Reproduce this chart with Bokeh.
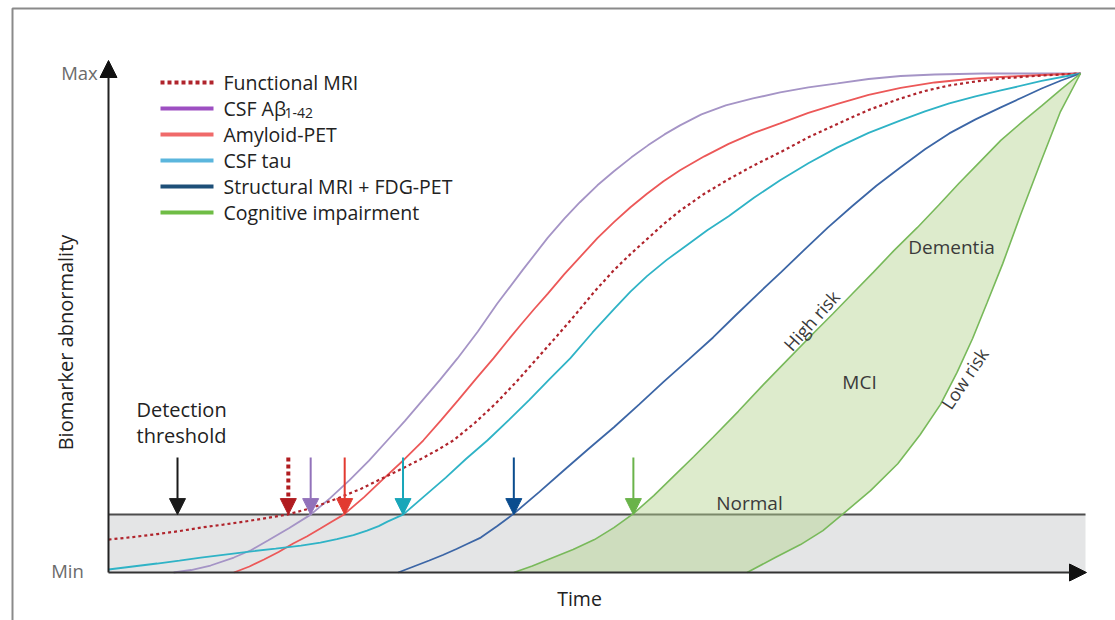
from bokeh.plotting import figure
from bokeh.models import Range1d, Label, Arrow, NormalHead
from bokeh.embed import file_html
from bokeh.resources import INLINE

# ---------------- data (time 0..100, abnormality 0..100) ----------------
threshold = 11.6

fmri_t = [0, 2.5, 5.0, 7.3, 9.5, 11.8, 14.0, 16.2, 18.4, 21.0, 23.5, 26.0, 28.3, 30.2, 32.0, 33.8, 35.5,
          37.7, 39.8, 42.0, 44.1, 46.1, 48.0, 50.0, 52.0, 53.7, 55.4, 57.1, 58.8, 61.3, 63.8, 66.4, 69.1,
          72.0, 75.0, 78.2, 81.5, 84.0, 86.5, 89.2, 91.8, 96.0, 100]
fmri_a = [6.6, 7.1, 7.7, 8.3, 9.0, 9.6, 10.2, 10.9, 11.6, 13.0, 14.8, 16.8, 19.0, 20.8, 22.6, 24.5, 26.5,
          30.0, 33.8, 38.3, 42.9, 47.3, 51.6, 56.3, 60.6, 63.8, 66.8, 69.8, 72.5, 75.9, 78.8, 81.6, 84.2,
          87.2, 89.9, 92.7, 95.0, 96.5, 97.6, 98.4, 99.0, 99.6, 100]

abeta_t = [6.7, 8.5, 10.5, 12.9, 14.7, 16.4, 18.6, 20.8, 22.8, 24.8, 26.8, 28.7, 30.5, 32.3, 34.1, 35.9,
           38.0, 40.0, 42.6, 45.2, 46.9, 48.5, 50.3, 52.0, 53.8, 55.5, 57.2, 58.8, 61.0, 63.5, 66.3, 69.1,
           72.0, 75.0, 78.2, 81.5, 85.0, 90.0, 95.0, 100]
abeta_a = [0, 0.5, 1.4, 3.0, 4.5, 6.4, 8.9, 11.6, 14.9, 18.5, 22.4, 26.5, 30.4, 34.5, 38.6, 42.9,
           48.3, 53.9, 60.6, 67.1, 70.9, 74.2, 77.6, 80.4, 83.2, 85.6, 87.8, 89.6, 91.8, 93.6, 95.0, 96.2,
           97.2, 98.0, 98.9, 99.5, 99.8, 100, 100, 100]

amyloid_t = [12.9, 14.5, 16.0, 17.5, 19.0, 20.4, 21.8, 23.0, 24.2, 26.3, 28.3, 30.4, 32.4, 34.2, 36.0,
             37.8, 39.6, 41.0, 42.4, 43.8, 45.2, 46.9, 48.6, 50.3, 52.0, 53.7, 55.4, 57.1, 58.8, 61.3,
             63.8, 66.4, 69.1, 72.0, 75.0, 78.2, 81.5, 85.0, 88.5, 91.8, 96.0, 100]
amyloid_a = [0, 1.2, 2.6, 4.1, 5.8, 7.2, 8.8, 10.2, 11.6, 15.1, 18.8, 22.6, 26.5, 30.5, 34.6,
             38.8, 42.9, 46.3, 49.6, 52.8, 55.9, 59.8, 63.4, 67.0, 70.2, 73.2, 75.9, 78.4, 80.6, 83.4,
             85.9, 88.1, 90.0, 92.1, 93.9, 95.7, 97.1, 98.2, 98.9, 99.3, 99.7, 100]

tau_t = [0, 2.5, 5.0, 7.3, 9.5, 12.0, 14.5, 17.2, 19.8, 21.8, 23.5, 25.2, 26.6, 27.8, 28.7, 29.5, 30.3,
         32.5, 34.7, 36.8, 39.0, 41.2, 43.3, 45.4, 47.5, 49.8, 52.0, 53.7, 55.4, 57.4, 59.5, 61.6, 63.8,
         66.4, 69.1, 72.0, 75.0, 78.2, 81.5, 84.0, 86.5, 89.2, 91.8, 96.0, 100]
tau_a = [0.6, 1.2, 1.8, 2.4, 3.0, 3.6, 4.2, 4.8, 5.4, 6.0, 6.7, 7.5, 8.4, 9.3, 10.2, 10.9, 11.6,
         15.3, 19.0, 22.8, 26.5, 30.6, 34.6, 38.8, 42.9, 48.1, 52.8, 56.3, 59.4, 62.6, 65.6, 68.6, 71.4,
         75.1, 78.6, 82.0, 85.2, 88.1, 90.6, 92.4, 94.0, 95.4, 96.6, 98.5, 100]

struct_t = [29.8, 31.4, 33.0, 34.4, 35.8, 37.0, 38.3, 40.0, 41.7, 44.3, 46.8, 49.4, 52.0, 54.6, 57.1, 59.7,
            62.2, 64.5, 66.8, 69.2, 71.5, 74.0, 76.5, 79.0, 81.5, 84.0, 86.5, 89.2, 91.8, 94.0, 96.0, 98.0, 100]
struct_a = [0, 1.2, 2.4, 3.5, 4.7, 5.8, 7.0, 9.3, 11.8, 16.1, 20.4, 24.8, 29.1, 33.7, 38.2, 42.7,
            47.1, 51.5, 55.8, 60.2, 64.5, 69.1, 73.4, 77.5, 81.2, 84.8, 88.0, 90.8, 93.2, 95.2, 97.0, 98.6, 100]

cog_high_t = [41.7, 43.6, 45.5, 47.8, 50.0, 52.0, 54.0, 56.1, 58.1, 60.2, 62.2, 64.8, 67.3, 69.9, 72.5,
              74.5, 76.5, 78.7, 80.8, 83.2, 85.4, 87.5, 89.7, 91.8, 94.0, 96.0, 98.0, 100]
cog_high_a = [0, 1.3, 2.8, 4.6, 6.6, 9.0, 11.8, 15.4, 19.2, 23.2, 27.1, 32.3, 37.5, 42.7, 47.9,
              51.8, 55.8, 60.2, 64.5, 69.1, 73.6, 78.0, 82.4, 86.6, 90.3, 93.5, 96.8, 100]

cog_low_t = [65.7, 68.6, 71.2, 73.5, 75.6, 78.4, 81.2, 83.5, 85.6, 87.3, 88.9, 90.4, 92.0, 93.8, 95.9, 97.9, 100]
cog_low_a = [0, 3.0, 5.6, 8.4, 11.8, 16.4, 21.8, 27.6, 33.7, 40.1, 46.9, 54.1, 61.9, 71.5, 82.2, 92.2, 100]

# detection time of each biomarker (where it crosses the threshold)
det_names = ["threshold", "fmri", "abeta", "amyloid", "tau", "struct", "cog"]
det_times = [7.1, 18.5, 20.8, 24.3, 30.3, 41.7, 54.0]

legend_labels = ["Functional MRI", "CSF A\u03b2", "Amyloid-PET", "CSF tau", "Structural MRI + FDG-PET", "Cognitive impairment"]

# ---------------- styling ----------------
FONT = "Open Sans"
W, H = 1115, 620
X0, XS = 108, 9.72   # pixel of time 0, pixels per unit
Y0, YS = 572, 4.99   # pixel of abnormality 0, pixels per unit


def tx(px):
    return (px - X0) / XS


def ay(py):
    return (Y0 - py) / YS


p = figure(width=W, height=H, x_range=Range1d(tx(0), tx(W)), y_range=Range1d(ay(H), ay(0)),
           output_backend="svg", toolbar_location=None, min_border=0,
           x_axis_location=None, y_axis_location=None)
p.grid.visible = False
p.outline_line_color = None
p.background_fill_color = "white"
p.border_fill_color = "white"

# outer frame (left + top)
p.line([tx(12), tx(12), tx(W + 5)], [ay(H + 5), ay(8), ay(8)], line_color="#8a8a8a", line_width=2)

# detection band
band_right = tx(1085)
p.quad(left=[0], right=[band_right], bottom=[0], top=[threshold], fill_color="#e4e5e6", line_color=None)
p.line([0, band_right], [threshold, threshold], line_color="#4d4d4d", line_width=2)

# cognitive impairment region (between high and low risk curves)
p.patch(cog_high_t + cog_low_t[::-1], cog_high_a + cog_low_a[::-1],
        fill_color="#b3d38e", fill_alpha=0.45, line_color=None)

# curves
p.line(abeta_t, abeta_a, line_color="#a594c6", line_width=1.8)
p.line(amyloid_t, amyloid_a, line_color="#ec5858", line_width=1.8)
p.line(fmri_t, fmri_a, line_color="#b0242c", line_width=2.2, line_dash="3 3")
p.line(tau_t, tau_a, line_color="#2fb3c6", line_width=1.8)
p.line(struct_t, struct_a, line_color="#3c66a6", line_width=1.8)
p.line(cog_high_t, cog_high_a, line_color="#78b95a", line_width=1.6)
p.line(cog_low_t, cog_low_a, line_color="#78b95a", line_width=1.6)

# detection arrows
arrow_colors = ["#1a1a1a", "#b01c20", "#9272ba", "#e23a30", "#18a6b9", "#0a4c8e", "#6ab34a"]
arrow_dash = ["solid", "4 3", "solid", "solid", "solid", "solid", "solid"]
arrow_width = [2, 4, 2, 2, 2, 2, 2]
for t, c, d, w in zip(det_times, arrow_colors, arrow_dash, arrow_width):
    p.add_layout(Arrow(end=NormalHead(size=16, fill_color=c, line_color=c, line_width=1),
                       x_start=t, y_start=ay(457), x_end=t, y_end=threshold,
                       line_color=c, line_width=w, line_dash=d))

# axes with arrowheads
p.add_layout(Arrow(end=NormalHead(size=17, fill_color="#111111", line_color="#111111"),
                   x_start=0, y_start=0, x_end=0, y_end=ay(60), line_color="#222222", line_width=2))
p.add_layout(Arrow(end=NormalHead(size=17, fill_color="#111111", line_color="#111111"),
                   x_start=0, y_start=0, x_end=tx(1086), y_end=0, line_color="#333333", line_width=2))


def label(x, y, text, size=20, color="#222222", align="left", baseline="middle", angle=0.0):
    p.add_layout(Label(x=x, y=y, text=text, text_font=FONT, text_font_size=f"{size}px",
                       text_color=color, text_align=align, text_baseline=baseline, angle=angle))


label(tx(79), ay(72), "Max", 18.5, "#6b6b6b", "center")
label(tx(67), ay(570), "Min", 18.5, "#6b6b6b", "center")
label(tx(65), ay(342), "Biomarker abnormality", 20, "#222222", "center", angle=1.5708)
label(tx(579), ay(598), "Time", 19.5, "#222222", "center")
label(tx(136), ay(409), "Detection", 20)
label(tx(136), ay(435), "threshold", 20)
label(tx(749), ay(502), "Normal", 19, "#3a3a3a", "center")
label(tx(859), ay(381), "MCI", 19, "#3a3a3a", "center")
label(tx(951), ay(246), "Dementia", 19, "#3a3a3a", "center")
label(tx(811), ay(320), "High risk", 18, "#3a3a3a", "center", angle=0.84)
label(tx(964), ay(378), "Low risk", 18, "#3a3a3a", "center", angle=0.98)

# legend
leg_colors = ["#b0242c", "#9d4fc2", "#f06a6a", "#5bb6dd", "#1d4f78", "#6fbd45"]
leg_dash = ["4 3", "solid", "solid", "solid", "solid", "solid"]
leg_rows = [82, 108, 134, 160, 186, 212]
for lab, c, d, row in zip(legend_labels, leg_colors, leg_dash, leg_rows):
    p.line([tx(160), tx(213)], [ay(row), ay(row)], line_color=c, line_width=4, line_dash=d)
    label(tx(223), ay(row), lab, 19.5)
label(tx(284), ay(112), "1-42", 14, "#222222", "left")

open("out.html", "w").write(file_html(p, INLINE))
